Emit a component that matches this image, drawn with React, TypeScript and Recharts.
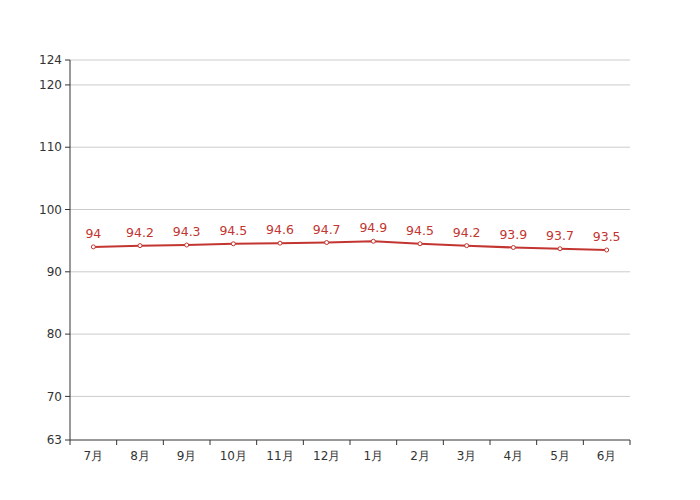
import React from "react";
import { LineChart, Line, XAxis, YAxis, CartesianGrid, LabelList } from "recharts";

const months = ["7月", "8月", "9月", "10月", "11月", "12月", "1月", "2月", "3月", "4月", "5月", "6月"];
const values = [94, 94.2, 94.3, 94.5, 94.6, 94.7, 94.9, 94.5, 94.2, 93.9, 93.7, 93.5];
const yTicks = [63, 70, 80, 90, 100, 110, 120, 124];
const xTicks = [0, 1, 2, 3, 4, 5, 6, 7, 8, 9, 10, 11, 12];

const data = months.map((m, i) => ({ x: i + 0.5, month: m, value: values[i] }));

const RED = "#c23531";
const FONT = "DejaVu Sans, sans-serif";

const XTick = (props: any) => {
  const { x, y, payload } = props;
  const idx = payload.value;
  if (idx >= months.length) return null;
  const band = 560 / 12;
  return (
    <text x={x + band / 2} y={y + 4} textAnchor="middle" dominantBaseline="hanging" fill="#333" fontSize={12} fontFamily={FONT}>
      {months[idx]}
    </text>
  );
};

export default function App() {
  return (
    <div style={{ position: "absolute", left: 0, top: 0, width: 700, height: 500, background: "#fff" }}>
      <LineChart width={700} height={500} data={data} margin={{ top: 60, right: 70, bottom: 30, left: 0 }}>
        <CartesianGrid vertical={false} stroke="#ccc" horizontalValues={yTicks.filter((t) => t !== 63)} />
        <XAxis
          dataKey="x"
          type="number"
          domain={[0, 12]}
          ticks={xTicks}
          interval={0}
          tick={<XTick />}
          tickSize={5}
          height={30}
          axisLine={{ stroke: "#333" }}
          tickLine={{ stroke: "#333" }}
          allowDataOverflow
        />
        <YAxis
          type="number"
          domain={[63, 124]}
          ticks={yTicks}
          interval={0}
          width={70}
          tickSize={5}
          tickMargin={3}
          axisLine={{ stroke: "#333" }}
          tickLine={{ stroke: "#333" }}
          tick={{ fill: "#333", fontSize: 12, fontFamily: FONT }}
          allowDataOverflow
        />
        <Line
          dataKey="value"
          stroke={RED}
          strokeWidth={2}
          dot={{ r: 2, fill: "#fff", stroke: RED, strokeWidth: 1 }}
          activeDot={false}
          isAnimationActive={false}
        >
          <LabelList dataKey="value" position="top" offset={9} fill={RED} fontSize={12.5} fontFamily={FONT} />
        </Line>
      </LineChart>
    </div>
  );
}
